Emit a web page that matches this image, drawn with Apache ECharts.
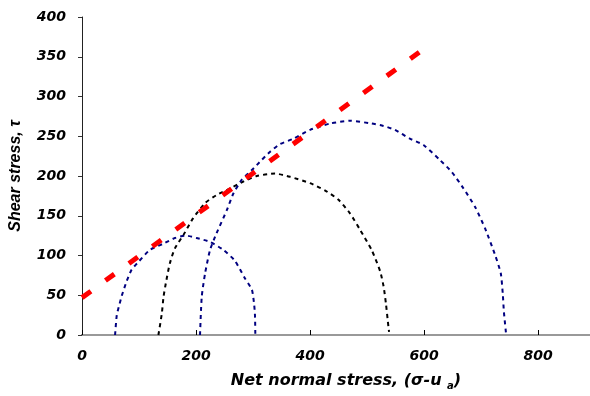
<!DOCTYPE html>
<html>
<head>
<meta charset="utf-8">
<script src="https://cdn.jsdelivr.net/npm/echarts@6/dist/echarts.min.js"></script>
<style>
  html, body { margin: 0; padding: 0; background: #fff; }
  #chart { width: 590px; height: 396px; }
</style>
</head>
<body>
<div id="chart"></div>
<script>
// Axis ranges and tick steps
const xTicks = [0, 200, 400, 600, 800];
const yTicks = [0, 50, 100, 150, 200, 250, 300, 350, 400];

// Mohr circle, lowest confining stress: [net normal stress, shear stress]
const circleLow = [
  [58, 0], [61, 25], [65.5, 38], [69.6, 49], [78, 67], [87, 82], [99, 92],
  [119, 107], [143, 115], [163, 122], [182.5, 125], [201, 122], [224.6, 117],
  [248, 107], [268, 93.5], [286, 71], [298, 57], [302, 38], [303.5, 23], [304, 0]
];

// Mohr circle, intermediate confining stress
const circleMid = [
  [134, 0], [140, 27], [143, 48], [147, 65], [154, 90], [163, 109], [178, 126],
  [195, 147], [216, 166], [236, 176], [260, 184.5], [283, 193], [306.5, 200],
  [338.6, 203], [365, 199], [400, 191], [426, 182], [450, 170], [470, 153],
  [488, 132], [508, 107], [523, 80], [529, 61], [533, 40], [537.5, 10], [538.6, 4]
];

// Mohr circle, highest confining stress
const circleHigh = [
  [207, 0], [210, 48], [216, 78], [224.6, 107], [236, 128], [254, 157],
  [265.5, 178], [280, 195], [298, 207.5], [315, 220], [330, 230.6], [347, 240],
  [371, 247], [400, 258], [435, 266], [470, 269.5], [508, 266], [528.6, 263],
  [549, 258], [575, 247], [599, 239], [628, 220], [648.6, 205], [669, 184.5],
  [689.5, 161], [707, 134], [724.6, 100.6], [734.5, 77.6], [738, 52], [740, 29],
  [744, 0]
];

// Failure envelope end points
const envelope = [[0, 47], [600, 360]];

const xMax = 891;
const tickFont = {
  fontFamily: 'DejaVu Sans', fontWeight: 'bold', fontStyle: 'italic',
  fontSize: 14, color: '#000'
};

const chart = echarts.init(document.getElementById('chart'), null, { renderer: 'canvas' });

function curve(data, color) {
  return {
    type: 'line', data: data, showSymbol: false, smooth: 0.2,
    lineStyle: { color: color, width: 2, type: [4, 4] },
    silent: true, animation: false
  };
}

chart.setOption({
  animation: false,
  backgroundColor: '#fff',
  grid: { left: 82, top: 17, right: 0, bottom: 61, containLabel: false },
  xAxis: [{
    type: 'value', min: xTicks[0], max: xMax, interval: 200,
    name: '{t|Net normal stress, (σ-u }{s|a}{t|)}',
    nameLocation: 'middle', nameGap: 36,
    nameTextStyle: {
      padding: [0, 0, 0, 20],
      rich: {
        t: { fontFamily: 'DejaVu Sans', fontWeight: 'bold', fontStyle: 'italic', fontSize: 16, color: '#000' },
        s: { fontFamily: 'DejaVu Sans', fontWeight: 'bold', fontStyle: 'italic', fontSize: 10, color: '#000', padding: [10, 0, 0, 0] }
      }
    },
    axisLine: { show: true, onZero: false, lineStyle: { color: '#444', width: 2 } },
    axisTick: { show: true, inside: true, length: 5, lineStyle: { color: '#000' } },
    axisLabel: Object.assign({ margin: 14, showMaxLabel: false }, tickFont),
    splitLine: { show: false }
  }, {
    type: 'value', position: 'top', min: xTicks[0], max: xMax,
    axisLine: { show: true, lineStyle: { color: '#999', width: 2 } },
    axisTick: { show: false }, axisLabel: { show: false }, splitLine: { show: false }
  }],
  yAxis: {
    type: 'value', min: yTicks[0], max: yTicks[yTicks.length - 1], interval: 50,
    name: 'Shear stress, τ',
    nameLocation: 'middle', nameGap: 58,
    nameTextStyle: {
      fontFamily: 'Liberation Sans', fontWeight: 'bold', fontStyle: 'italic',
      fontSize: 16, color: '#000'
    },
    axisLine: { show: true, onZero: false, lineStyle: { color: '#222', width: 1 } },
    axisTick: { show: true, inside: false, length: 4, lineStyle: { color: '#333' } },
    axisLabel: Object.assign({ margin: 16 }, tickFont),
    splitLine: { show: false }
  },
  series: [
    curve(circleLow, '#000080'),
    curve(circleMid, '#000000'),
    curve(circleHigh, '#000080'),
    {
      type: 'line', data: envelope, showSymbol: false,
      lineStyle: { color: '#ff0000', width: 5, type: [11, 18] },
      silent: true, z: 5
    }
  ]
});
</script>
</body>
</html>
